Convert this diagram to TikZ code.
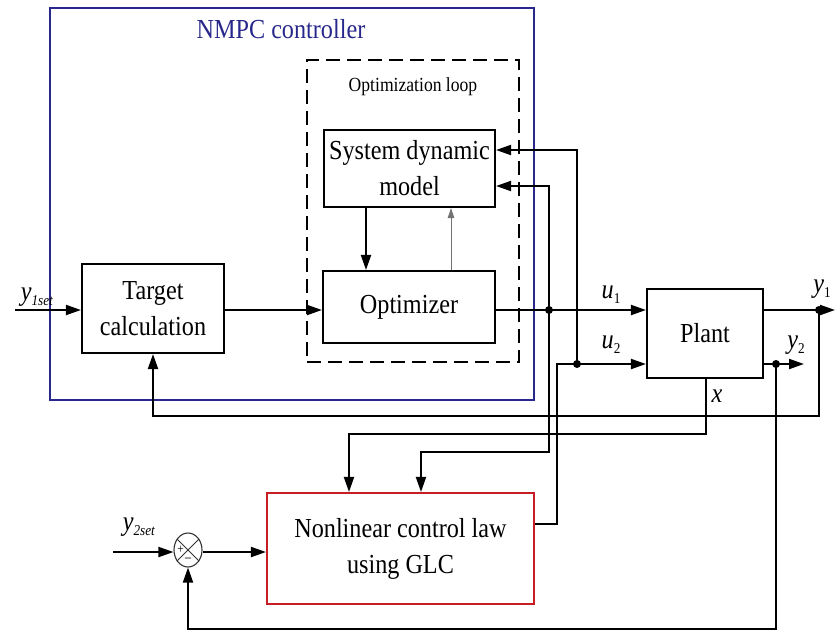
\documentclass[tikz,border=0pt]{standalone}
\usepackage{fontspec}
\setmainfont{Liberation Serif}[FakeStretch=0.88]
\usetikzlibrary{arrows.meta,shapes.geometric}
\definecolor{nmpcblue}{RGB}{40,40,140}
\definecolor{glcred}{RGB}{200,30,35}
\newcommand{\bigfnt}{\fontsize{27.5}{36}\selectfont}
\newcommand{\lblsub}[1]{\raisebox{-5pt}{\fontsize{15}{15}\selectfont #1}}
\begin{document}
\begin{tikzpicture}[x=1pt,y=-1pt,
  blk/.style={draw, line width=2.1pt, inner sep=0pt, align=center, font=\bigfnt},
  conn/.style={line width=2pt, -{Triangle[length=15pt,width=10pt]}},
  thinconn/.style={line width=0.9pt, draw=black!55, -{Triangle[length=10pt,width=6.5pt]}},
  lbl/.style={inner sep=0pt, font=\bigfnt},
  jdot/.style={fill, circle, inner sep=0pt, minimum size=8pt}
]
\useasboundingbox (0,0) rectangle (835,633);

% containers
\node[draw=nmpcblue, line width=1.8pt, minimum width=484pt, minimum height=392pt, inner sep=0pt] (nmpc) at (292,204) {};
\node[text=nmpcblue, inner sep=0pt, font=\bigfnt] (nmpct) at (281,29) {NMPC controller};
\node[draw, line width=2.4pt, dash pattern=on 14pt off 7pt, minimum width=212pt, minimum height=302pt, inner sep=0pt] (loop) at (413,211) {};
\node[inner sep=0pt, font=\fontsize{20}{24}\selectfont] (loopt) at (413,87) {Optimization loop};

% blocks
\node[blk, minimum width=142pt, minimum height=89pt] (tc) at (153,308.5) {Target\\calculation};
\node[blk, minimum width=171pt, minimum height=77pt] (sdm) at (409.5,168.5) {System dynamic\\model};
\node[blk, minimum width=172pt, minimum height=72pt] (opt) at (409,307) {Optimizer};
\node[blk, minimum width=116pt, minimum height=89pt] (plant) at (705,333.5) {Plant};
\node[blk, draw=glcred, minimum width=267pt, minimum height=111pt] (glc) at (400.5,548.5) {Nonlinear control law\\using GLC};
\node[draw=black!80, line width=1.1pt, ellipse, minimum width=28pt, minimum height=34pt, inner sep=0pt] (sum) at (188,550) {};
\draw[line width=1pt, black!80] (sum.135) -- (sum.-45) (sum.45) -- (sum.-135);
\node[inner sep=0pt, font=\fontsize{13}{13}\selectfont] (splus) at (180.5,550) {+};
\node[inner sep=0pt, font=\fontsize{15}{15}\selectfont] (sminus) at (188,561) {\textminus};

% coordinates
\coordinate (in1) at (15,310);
\coordinate (ju1) at (549,310);
\coordinate (ju2) at (577,364);
\coordinate (u2c) at (557,364);
\coordinate (jy1) at (819,310);
\coordinate (y1end) at (835,310);
\coordinate (jy2) at (776,364);
\coordinate (y2end) at (804,364);
\coordinate (fb1) at (819,416);
\coordinate (fb2) at (776,629);
\coordinate (g1) at (0,524);
\coordinate (s1) at (0,150);
\coordinate (s2) at (0,186);
\coordinate (k1) at (549,452);
\coordinate (k2) at (421,0);
\coordinate (xk) at (706,0);
\coordinate (xl) at (349,434);
\coordinate (in2) at (113,552);
\coordinate (a1) at (366,0);
\coordinate (a2) at (451,0);

% connectors
\draw[conn] (in1) -- (tc.west |- in1);
\draw[conn] (tc.east |- in1) -- (opt.west |- in1);
\draw[conn] (opt.east |- in1) -- (plant.west |- in1);
\draw[conn] (plant.east |- in1) -- (y1end);
\draw[conn] (plant.east |- jy2) -- (y2end);
\draw[conn] (jy1) -- (fb1) -| (tc.south);
\draw[conn] (glc.east |- g1) -| (u2c) -- (plant.west |- u2c);
\draw[conn] (ju2) |- (sdm.east |- s1);
\draw[conn] (ju1) |- (sdm.east |- s2);
\draw[conn] (ju1) -- (k1) -| (k2 |- glc.north);
\draw[conn] (plant.south -| xk) |- (xl) -- (xl |- glc.north);
\draw[conn] (jy2) -- (fb2) -| (sum.south);
\draw[conn] (in2) -- (sum.west |- in2);
\draw[conn] (sum.east |- in2) -- (glc.west |- in2);
\draw[conn] (sdm.south -| a1) -- (opt.north -| a1);
\draw[thinconn] (opt.north -| a2) -- (sdm.south -| a2);

% junction dots
\node[jdot] (d1) at (ju1) {};
\node[jdot] (d2) at (ju2) {};
\node[jdot] (d3) at (jy1) {};
\node[jdot] (d4) at (jy2) {};

% labels
\node[lbl] (lu1) at (611,295) {\textit{u}\lblsub{1}};
\node[lbl] (lu2) at (611,345) {\textit{u}\lblsub{2}};
\node[lbl] (ly1) at (822,289) {\textit{y}\lblsub{1}};
\node[lbl] (ly2) at (796,345) {\textit{y}\lblsub{2}};
\node[lbl] (lx) at (717,396) {\textit{x}};
\node[lbl] (ly1s) at (37,297) {\textit{y}\lblsub{\textit{1set}}};
\node[lbl] (ly2s) at (139,527) {\textit{y}\lblsub{\textit{2set}}};
\end{tikzpicture}
\end{document}
